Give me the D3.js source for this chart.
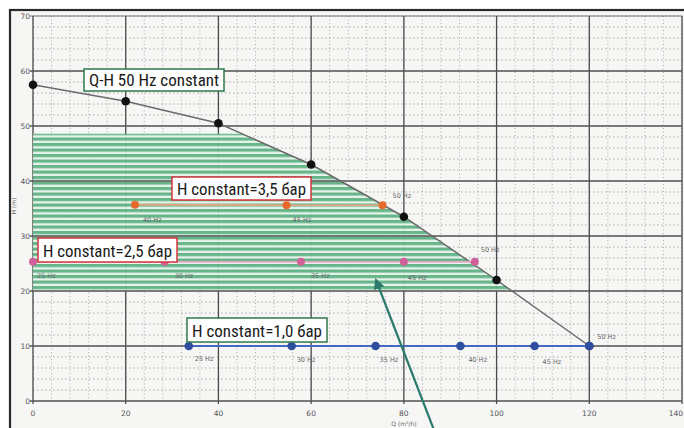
<!DOCTYPE html>
<html><head><meta charset="utf-8">
<script src="https://cdn.jsdelivr.net/npm/d3@7"></script>
<style>html,body{margin:0;padding:0;background:#fff;}svg{display:block;}</style>
</head><body>
<svg id="c" width="684" height="428"></svg>
<script>
// ---- data ----
const xTicks = [0, 20, 40, 60, 80, 100, 120, 140];
const yTicks = [0, 10, 20, 30, 40, 50, 60, 70];
const curveQ = [0, 20, 40, 60, 80, 100, 120];
const curveH = [57.5, 54.5, 50.5, 43, 33.5, 22, 10];
const h35Q = [22, 54.7, 75.4];
const h35H = [35.7, 35.6, 35.6];
const h35Labels = ["40 Hz", "45 Hz", "50 Hz"];
const h25Q = [0, 28.4, 57.8, 80, 95.3];
const h25H = [25.3, 25.3, 25.3, 25.3, 25.3];
const h25Labels = ["25 Hz", "30 Hz", "35 Hz", "45 Hz", "50 Hz"];
const h10Q = [33.6, 55.8, 73.9, 92.2, 108.2, 120];
const h10H = [10, 10, 10, 10, 10, 10];
const h10Labels = ["25 Hz", "30 Hz", "35 Hz", "40 Hz", "45 Hz", "50 Hz"];
const zoneH = [20, 48.6];
const notes = ["Q-H 50 Hz constant", "H constant=3,5 бар", "H constant=2,5 бар", "H constant=1,0 бар"];

const svg = d3.select("#c");
const x = d3.scaleLinear([0, 140], [33, 682]);
const y = d3.scaleLinear([0, 70], [401, 16]);

// frame/background
svg.append("rect").attr("x", 10).attr("y", 10).attr("width", 690).attr("height", 440)
  .attr("fill", "#f6f6f5").attr("stroke", "#2a2a2a").attr("stroke-width", 2.2);

// minor grid
const g = svg.append("g");
g.selectAll(".mx").data(d3.range(0, 141, 4)).join("line")
  .attr("x1", d => x(d)).attr("x2", d => x(d)).attr("y1", y(70)).attr("y2", y(0))
  .attr("stroke", "#9a9a9a").attr("stroke-width", 0.8).attr("stroke-dasharray", "1,2.5");
g.selectAll(".my").data(d3.range(0, 71, 2)).join("line")
  .attr("x1", x(0)).attr("x2", x(140)).attr("y1", d => y(d)).attr("y2", d => y(d))
  .attr("stroke", "#9a9a9a").attr("stroke-width", 0.8).attr("stroke-dasharray", "1.5,2.5");

// green zone
const defs = svg.append("defs");
const pat = defs.append("pattern").attr("id", "stripes").attr("patternUnits", "userSpaceOnUse")
  .attr("width", 10).attr("height", 5.5);
pat.append("rect").attr("width", 10).attr("height", 5.5).attr("fill", "#e8f4ec");
pat.append("rect").attr("y", 0).attr("width", 10).attr("height", 3.2).attr("fill", "#5fb384");

function curveQAt(h) {
  for (let i = 0; i < curveQ.length - 1; i++) {
    const h0 = curveH[i], h1 = curveH[i + 1];
    if (h <= h0 && h >= h1) return curveQ[i] + (h0 - h) / (h0 - h1) * (curveQ[i + 1] - curveQ[i]);
  }
  return 0;
}
const zonePts = [[0, zoneH[1]], [curveQAt(zoneH[1]), zoneH[1]]];
curveQ.forEach((q, i) => { if (curveH[i] < zoneH[1] && curveH[i] > zoneH[0]) zonePts.push([q, curveH[i]]); });
zonePts.push([curveQAt(zoneH[0]), zoneH[0]], [0, zoneH[0]]);
svg.append("path").attr("d", d3.line().x(d => x(d[0])).y(d => y(d[1]))(zonePts) + "Z")
  .attr("fill", "url(#stripes)").attr("opacity", 0.95);

// major grid
g.selectAll(".Mx").data(xTicks).join("line")
  .attr("x1", d => x(d)).attr("x2", d => x(d)).attr("y1", y(70)).attr("y2", y(0) + 3)
  .attr("stroke", "#4a4a4a").attr("stroke-width", 1.3);
svg.append("g").selectAll("line").data(yTicks).join("line")
  .attr("x1", x(0) - 3).attr("x2", x(140)).attr("y1", d => y(d)).attr("y2", d => y(d))
  .attr("stroke", "#555").attr("stroke-width", d => d === 70 ? 0.8 : 1.3);

// tick labels
svg.append("g").selectAll("text").data(yTicks).join("text")
  .attr("x", 30).attr("y", d => y(d) + 3).attr("text-anchor", "end")
  .attr("font-family", "DejaVu Sans, sans-serif").attr("font-size", 7.5).attr("fill", "#555").text(d => d);
svg.append("g").selectAll("text").data(xTicks).join("text")
  .attr("x", d => d === 140 ? 683 : x(d)).attr("y", 416)
  .attr("text-anchor", d => d === 140 ? "end" : "middle")
  .attr("font-family", "DejaVu Sans, sans-serif").attr("font-size", 7.5).attr("fill", "#555").text(d => d);
svg.append("text").attr("x", 404).attr("y", 426).attr("text-anchor", "middle")
  .attr("font-family", "DejaVu Sans, sans-serif").attr("font-size", 6).attr("fill", "#666").text("Q (m³/h)");
svg.append("text").attr("transform", "translate(16,206) rotate(-90)").attr("text-anchor", "middle")
  .attr("font-family", "DejaVu Sans, sans-serif").attr("font-size", 6).attr("fill", "#666").text("H (m)");

// series
function series(Q, H, color, lineColor, r, lw) {
  const pts = Q.map((q, i) => [q, H[i]]);
  svg.append("path").attr("d", d3.line().x(d => x(d[0])).y(d => y(d[1]))(pts))
    .attr("fill", "none").attr("stroke", lineColor).attr("stroke-width", lw);
  svg.append("g").selectAll("circle").data(pts).join("circle")
    .attr("cx", d => x(d[0])).attr("cy", d => y(d[1])).attr("r", r).attr("fill", color);
  return pts;
}
function labels(Q, H, L, dx, dy) {
  svg.append("g").selectAll("text").data(L).join("text")
    .attr("x", (d, i) => x(Q[i]) + (Array.isArray(dx) ? dx[i] : dx))
    .attr("y", (d, i) => y(H[i]) + (Array.isArray(dy) ? dy[i] : dy))
    .attr("font-family", "DejaVu Sans, sans-serif").attr("font-size", 6.5).attr("fill", "#666").text(d => d);
}
series(curveQ, curveH, "#111", "#6a6a6a", 4.3, 1.5);
series(h35Q, h35H, "#e8692c", "#eda682", 4, 1.6);
labels(h35Q, h35H, h35Labels, [8, 6, 10], [17, 17, -7]);
series(h25Q, h25H, "#d0609a", "#e7a9c8", 4, 1.6);
labels(h25Q, h25H, h25Labels, [4, 10, 10, 4, 6], [16, 16, 16, 18, -10]);
series(h10Q, h10H, "#2e4ea0", "#4668bf", 4.3, 1.8);
labels(h10Q, h10H, h10Labels, [6, 5, 4, 8, 8, 8], [15, 16, 16, 16, 18, -7]);

// annotation boxes
function note(txt, bx, by, bw, bh, color) {
  svg.append("rect").attr("x", bx).attr("y", by).attr("width", bw).attr("height", bh)
    .attr("fill", "#fff").attr("stroke", color).attr("stroke-width", 1.5);
  svg.append("text").attr("x", bx + 5).attr("y", by + bh - 5)
    .attr("font-family", "Liberation Sans Narrow, Roboto Condensed, Liberation Sans, sans-serif")
    .attr("font-size", 17).attr("fill", "#1a1a1a")
    .attr("textLength", bw - 10).attr("lengthAdjust", "spacingAndGlyphs").text(txt);
}
note(notes[0], 84, 69, 140, 22, "#2f7a4a");
note(notes[1], 172, 177, 139, 23, "#d4343c");
note(notes[2], 38, 238, 139, 24, "#d4343c");
note(notes[3], 187, 318, 140, 24, "#2f7a4a");

// arrow
defs.append("marker").attr("id", "ah").attr("viewBox", "0 0 10 10").attr("refX", 8).attr("refY", 5)
  .attr("markerWidth", 5).attr("markerHeight", 5).attr("orient", "auto")
  .append("path").attr("d", "M0,0L10,5L0,10Z").attr("fill", "#2b7a6c");
svg.append("line").attr("x1", 434).attr("y1", 430).attr("x2", 376).attr("y2", 280)
  .attr("stroke", "#2b7a6c").attr("stroke-width", 2.2).attr("marker-end", "url(#ah)");
</script>
</body></html>
